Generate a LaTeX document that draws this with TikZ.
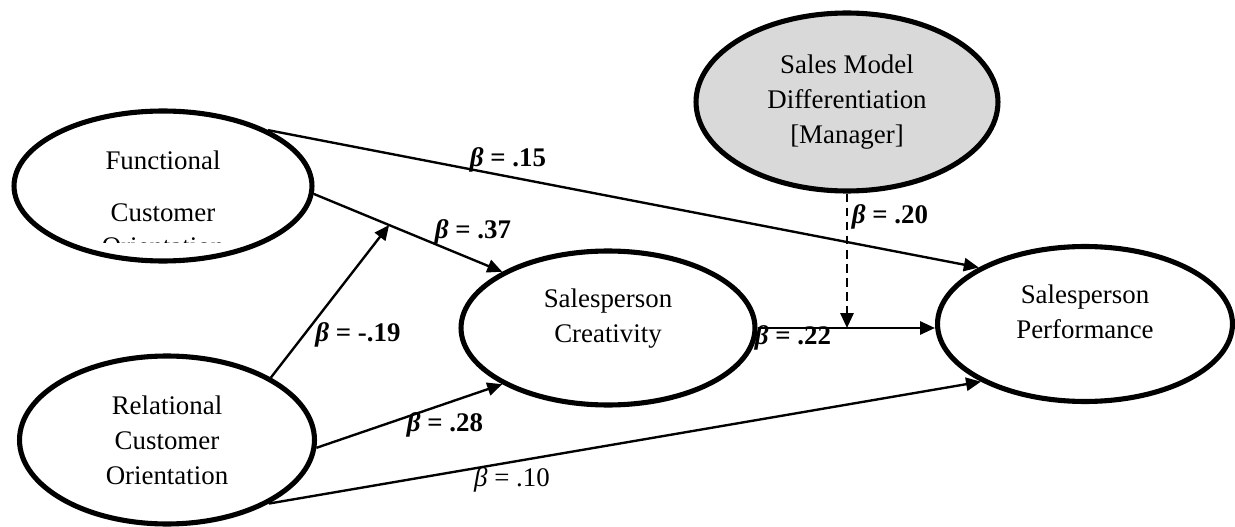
\documentclass[tikz,border=0pt]{standalone}
\usepackage{fontspec}
\setmainfont{Liberation Serif}
\usetikzlibrary{arrows.meta,shapes.geometric,positioning,calc}
\definecolor{modgrey}{RGB}{217,217,217}

\begin{document}
\begin{tikzpicture}[x=0.02cm, y=-0.02cm,
    construct/.style={ellipse, draw=black, line width=2.9pt, fill=white, inner sep=0pt,
               align=center, font=\fontsize{15.3}{19.9}\selectfont},
    moderator/.style={construct, fill=modgrey},
    effect/.style={-{Triangle[length=8.5pt,width=7.5pt]}, line width=1.35pt},
    coef/.style={font=\fontsize{15.3}{18}\selectfont\bfseries, inner sep=1pt},
    coefplain/.style={font=\fontsize{15.3}{18}\selectfont, inner sep=1pt}
]
    \useasboundingbox (0,0) rectangle (1235,527);

    % constructs
    \node[construct, minimum width=5.96cm, minimum height=3.0cm] (F) at (163,186)
        {Functional\\[9.7pt]Customer};
    \begin{scope}
        \clip (20,222) rectangle (310,242);
        \node[font=\fontsize{15.3}{19.9}\selectfont] (Forient) at (163,247) {Orientation};
    \end{scope}
    \node[construct, minimum width=5.9cm, minimum height=3.36cm] (R) at (167,440)
        {Relational\\Customer\\Orientation};
    \node[construct, minimum width=5.88cm, minimum height=3.08cm] (C) at (608,328)
        {Salesperson\\Creativity\rule[-14.5pt]{0pt}{14.5pt}};
    \node[construct, minimum width=5.9cm, minimum height=3.1cm] (P) at (1085,324)
        {Salesperson\\Performance\rule[-13.6pt]{0pt}{13.6pt}};
    \node[moderator, minimum width=6.04cm, minimum height=3.56cm] (S) at (847,102)
        {Sales Model\\Differentiation\\{[}Manager{]}};

    % paths
    \coordinate (J) at ($(F.-3)!0.4!(C.152)$);
    \draw[effect] (F.28)  -- (P.152);
    \draw[effect] (F.-3)  -- (C.152);
    \draw[effect] (R.31)  -- (J);
    \draw[effect] (R.-3)  -- (C.208);
    \draw[effect] (R.-32) -- (P.209);
    \draw[effect] (C.east) -- (C.east -| P.west);
    \draw[effect, dash pattern=on 5pt off 3pt] (S.south) -- (S.south |- C.east);

    % coefficients
    \node[coef] (b15) at (508,160) {\textit{β} = .15};
    \node[coef] (b37) at (473,232) {\textit{β} = .37};
    \node[coef] (b19) at (358,335) {\textit{β} = -.19};
    \node[coef] (b28) at (445,425) {\textit{β} = .28};
    \node[coefplain] (b10) at (512,480) {\textit{β} = .10};
    \node[coef] (b22) at (793,338) {\textit{β} = .22};
    \node[coef] (b20) at (890,217) {\textit{β} = .20};
\end{tikzpicture}
\end{document}
